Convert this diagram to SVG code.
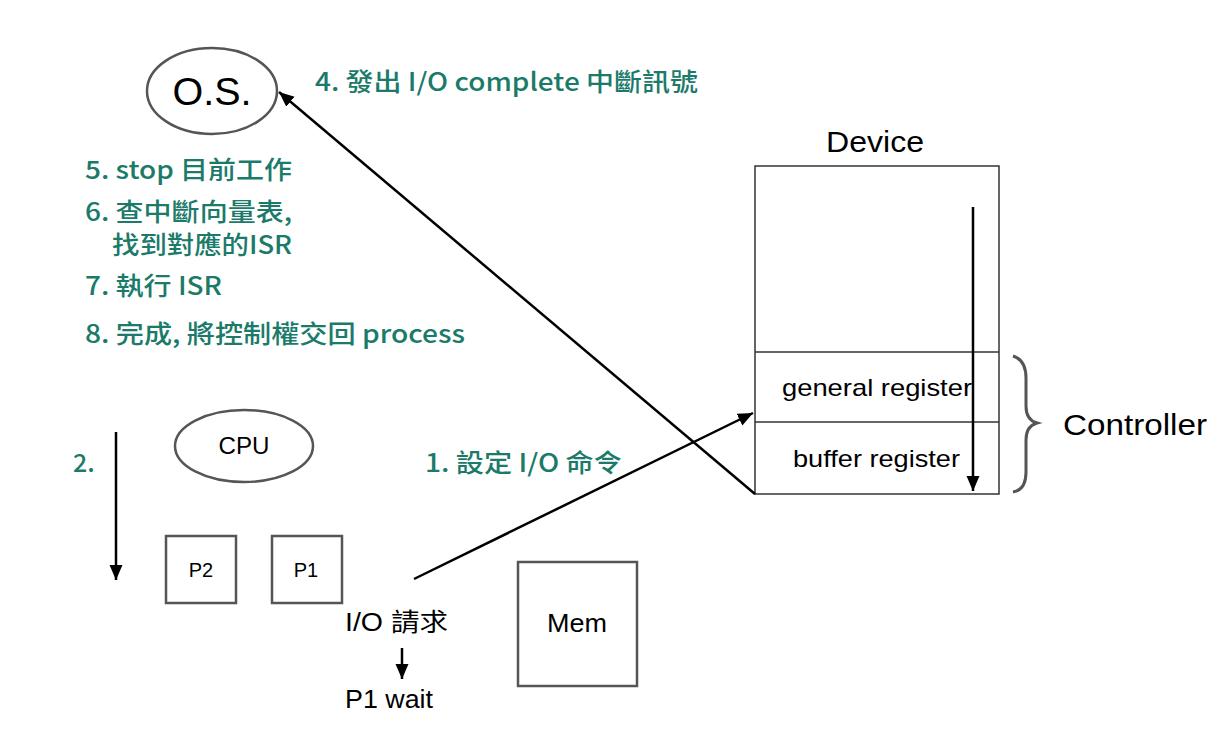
<svg xmlns="http://www.w3.org/2000/svg" width="1226" height="752" viewBox="0 0 1226 752">
  <defs>
    <style>
      .teal { fill: #1b7a69; font-family: "Noto Sans CJK TC", "Noto Sans", sans-serif; font-size: 25px; font-weight: 500; }
      .lbl { fill: #000; font-family: "Liberation Sans", "Noto Sans CJK TC", sans-serif; }
      .node { fill: #fff; stroke: #555; stroke-width: 2.5; }
      .dev { fill: #fff; stroke: #333; stroke-width: 1.5; }
      .conn { stroke: #000; stroke-width: 2.5; fill: none; }
    </style>
    <marker id="ah" markerUnits="userSpaceOnUse" markerWidth="16" markerHeight="14" refX="15" refY="6.5" orient="auto">
      <path d="M0,0 L15,6.5 L0,13 z" fill="#000"/>
    </marker>
  </defs>
  <rect width="1226" height="752" fill="#fff"/>

  <g id="os">
    <ellipse class="node" cx="212" cy="91" rx="65" ry="43"/>
    <text class="lbl" x="212" y="105" font-size="38" text-anchor="middle" textLength="79" lengthAdjust="spacingAndGlyphs">O.S.</text>
  </g>

  <g id="steps">
    <text class="teal" x="315" y="91" textLength="383" lengthAdjust="spacingAndGlyphs">4. 發出 I/O complete 中斷訊號</text>
    <text class="teal" x="85" y="179" textLength="207" lengthAdjust="spacingAndGlyphs">5. stop 目前工作</text>
    <text class="teal" x="85" y="221" textLength="207" lengthAdjust="spacingAndGlyphs">6. 查中斷向量表,</text>
    <text class="teal" x="112" y="254" textLength="180" lengthAdjust="spacingAndGlyphs">找到對應的ISR</text>
    <text class="teal" x="85" y="295" textLength="137" lengthAdjust="spacingAndGlyphs">7. 執行 ISR</text>
    <text class="teal" x="85" y="343" textLength="380" lengthAdjust="spacingAndGlyphs">8. 完成, 將控制權交回 process</text>
    <text class="teal" x="73" y="472">2.</text>
    <text class="teal" x="940" y="209">3.</text>
    <text class="teal" x="425" y="472" textLength="197" lengthAdjust="spacingAndGlyphs">1. 設定 I/O 命令</text>
  </g>

  <g id="device">
    <text class="lbl" x="826" y="152" font-size="30" textLength="98" lengthAdjust="spacingAndGlyphs">Device</text>
    <rect class="dev" x="755" y="166" width="244" height="328"/>
    <line class="dev" x1="755" y1="352" x2="999" y2="352"/>
    <line class="dev" x1="755" y1="422" x2="999" y2="422"/>
    <text class="lbl" x="782" y="396" font-size="24" textLength="190" lengthAdjust="spacingAndGlyphs">general register</text>
    <text class="lbl" x="793" y="467" font-size="24" textLength="167" lengthAdjust="spacingAndGlyphs">buffer register</text>
  </g>

  <g id="controller">
    <path d="M1013,356 Q1026,360 1026,378 L1026,406 Q1026,420 1037,423 Q1026,426 1026,440 L1026,472 Q1026,490 1013,492" fill="none" stroke="#555" stroke-width="3"/>
    <text class="lbl" x="1063" y="435" font-size="29" textLength="144" lengthAdjust="spacingAndGlyphs">Controller</text>
  </g>

  <g id="cpu">
    <ellipse class="node" cx="244" cy="446" rx="69" ry="36"/>
    <text class="lbl" x="244" y="454" font-size="23" text-anchor="middle" textLength="51" lengthAdjust="spacingAndGlyphs">CPU</text>
  </g>

  <g id="p2">
    <rect class="node" x="166" y="536" width="70" height="67"/>
    <text class="lbl" x="201" y="577" font-size="20" text-anchor="middle">P2</text>
  </g>

  <g id="p1">
    <rect class="node" x="272" y="536" width="70" height="67"/>
    <text class="lbl" x="306" y="577" font-size="20" text-anchor="middle">P1</text>
  </g>

  <g id="mem">
    <rect class="node" x="518" y="562" width="119" height="124"/>
    <text class="lbl" x="577" y="632" font-size="26" text-anchor="middle" textLength="60" lengthAdjust="spacingAndGlyphs">Mem</text>
  </g>

  <g id="io-request">
    <text class="lbl" x="345" y="631" font-size="25" textLength="103" lengthAdjust="spacingAndGlyphs">I/O 請求</text>
    <text class="lbl" x="345" y="708" font-size="25" textLength="88" lengthAdjust="spacingAndGlyphs">P1 wait</text>
  </g>

  <g id="connectors">
    <line class="conn" x1="755" y1="494" x2="279" y2="92" marker-end="url(#ah)"/>
    <line class="conn" x1="414" y1="579" x2="753" y2="413" marker-end="url(#ah)"/>
    <line class="conn" x1="116" y1="432" x2="116" y2="580" marker-end="url(#ah)"/>
    <line class="conn" x1="973" y1="207" x2="973" y2="491" marker-end="url(#ah)"/>
    <line class="conn" x1="402" y1="648" x2="402" y2="679" stroke-width="3" marker-end="url(#ah)"/>
  </g>
</svg>
